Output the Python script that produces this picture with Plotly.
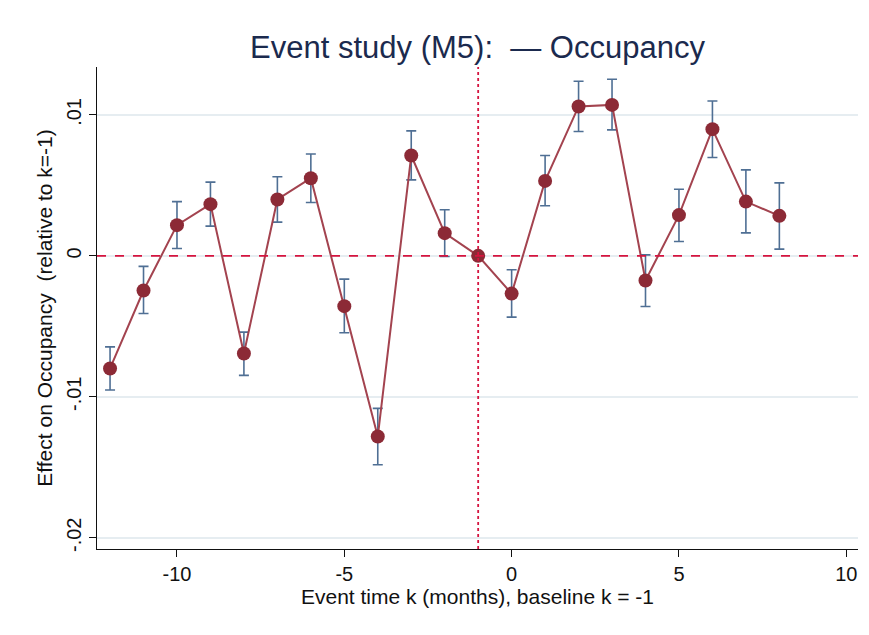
import plotly.graph_objects as go

k = [-12, -11, -10, -9, -8, -7, -6, -5, -4, -3, -2, -1, 0, 1, 2, 3, 4, 5, 6, 7, 8]
coef = [-0.00799, -0.00246, 0.00218, 0.00367, -0.00693, 0.00400, 0.00551, -0.00357, -0.01282,
        0.00712, 0.00161, 0.0, -0.00268, 0.00532, 0.01060, 0.01071, -0.00175, 0.00289,
        0.00899, 0.00385, 0.00284]
ci_hi = [-0.00646, -0.00075, 0.00385, 0.00523, -0.00541, 0.00561, 0.00723, -0.00165, -0.01082,
         0.00887, 0.00327, 0.0, -0.00099, 0.00712, 0.01239, 0.01253, 0.00007, 0.00473,
         0.01099, 0.00610, 0.00518]
ci_lo = [-0.00952, -0.00409, 0.00052, 0.00211, -0.00848, 0.00239, 0.00379, -0.00546, -0.01482,
         0.00539, -0.00005, 0.0, -0.00435, 0.00355, 0.00882, 0.00894, -0.00359, 0.00102,
         0.00698, 0.00163, 0.00048]

x_ticks = [-10, -5, 0, 5, 10]
y_ticks = [-0.02, -0.01, 0, 0.01]
y_labels = ["-.02", "-.01", "0", ".01"]

err_plus = [h - c for h, c in zip(ci_hi, coef)]
err_minus = [c - l for c, l in zip(coef, ci_lo)]

FONT = "Liberation Sans, Arial, sans-serif"

fig = go.Figure()
# error bars
fig.add_trace(go.Scatter(
    x=k, y=coef, mode="markers",
    marker=dict(size=1, color="rgba(0,0,0,0)"),
    error_y=dict(type="data", symmetric=False, array=err_plus, arrayminus=err_minus,
                 color="#4f6f94", thickness=1.6, width=5),
    showlegend=False, hoverinfo="skip"))
# line + markers
fig.add_trace(go.Scatter(
    x=k, y=coef, mode="lines+markers",
    line=dict(color="#a3434f", width=2),
    marker=dict(size=14, color="#8c2a36"),
    showlegend=False))

fig.add_hline(y=0, line=dict(color="#d5143f", width=1.6, dash="dash"))
fig.add_vline(x=-1, line=dict(color="#d5143f", width=1.8, dash="dot"))

fig.update_layout(
    width=869, height=635,
    margin=dict(l=97, r=11, t=67, b=86),
    paper_bgcolor="white", plot_bgcolor="white",
    font=dict(family=FONT, color="#111111"),
    title=dict(text="Event study (M5):  \u2014 Occupancy", x=0.5, xref="paper",
               y=0.925, yanchor="middle", yref="container",
               font=dict(family=FONT, size=31, color="#1b2a4e")),
)
fig.update_xaxes(
    range=[-12.39, 10.35], tickvals=x_ticks, ticktext=[str(v) for v in x_ticks],
    showgrid=False, zeroline=False, showline=True, linecolor="#111111", linewidth=1.3,
    ticks="outside", ticklen=7, tickcolor="#111111",
    tickfont=dict(size=20, color="#111111"),
    title=dict(text="Event time k (months), baseline k = -1", font=dict(size=21, color="#111111"), standoff=2),
)
fig.update_yaxes(
    range=[-0.0208, 0.0134], tickvals=y_ticks, ticktext=y_labels, tickangle=-90,
    showgrid=True, gridcolor="#e6edf1", gridwidth=1.5, zeroline=False,
    showline=True, linecolor="#111111", linewidth=1.3,
    ticks="outside", ticklen=7, tickcolor="#111111",
    tickfont=dict(size=20, color="#111111"),
    title=dict(text="Effect on Occupancy  (relative to k=-1)", font=dict(size=21, color="#111111"), standoff=4),
)

fig.write_html("out.html")
